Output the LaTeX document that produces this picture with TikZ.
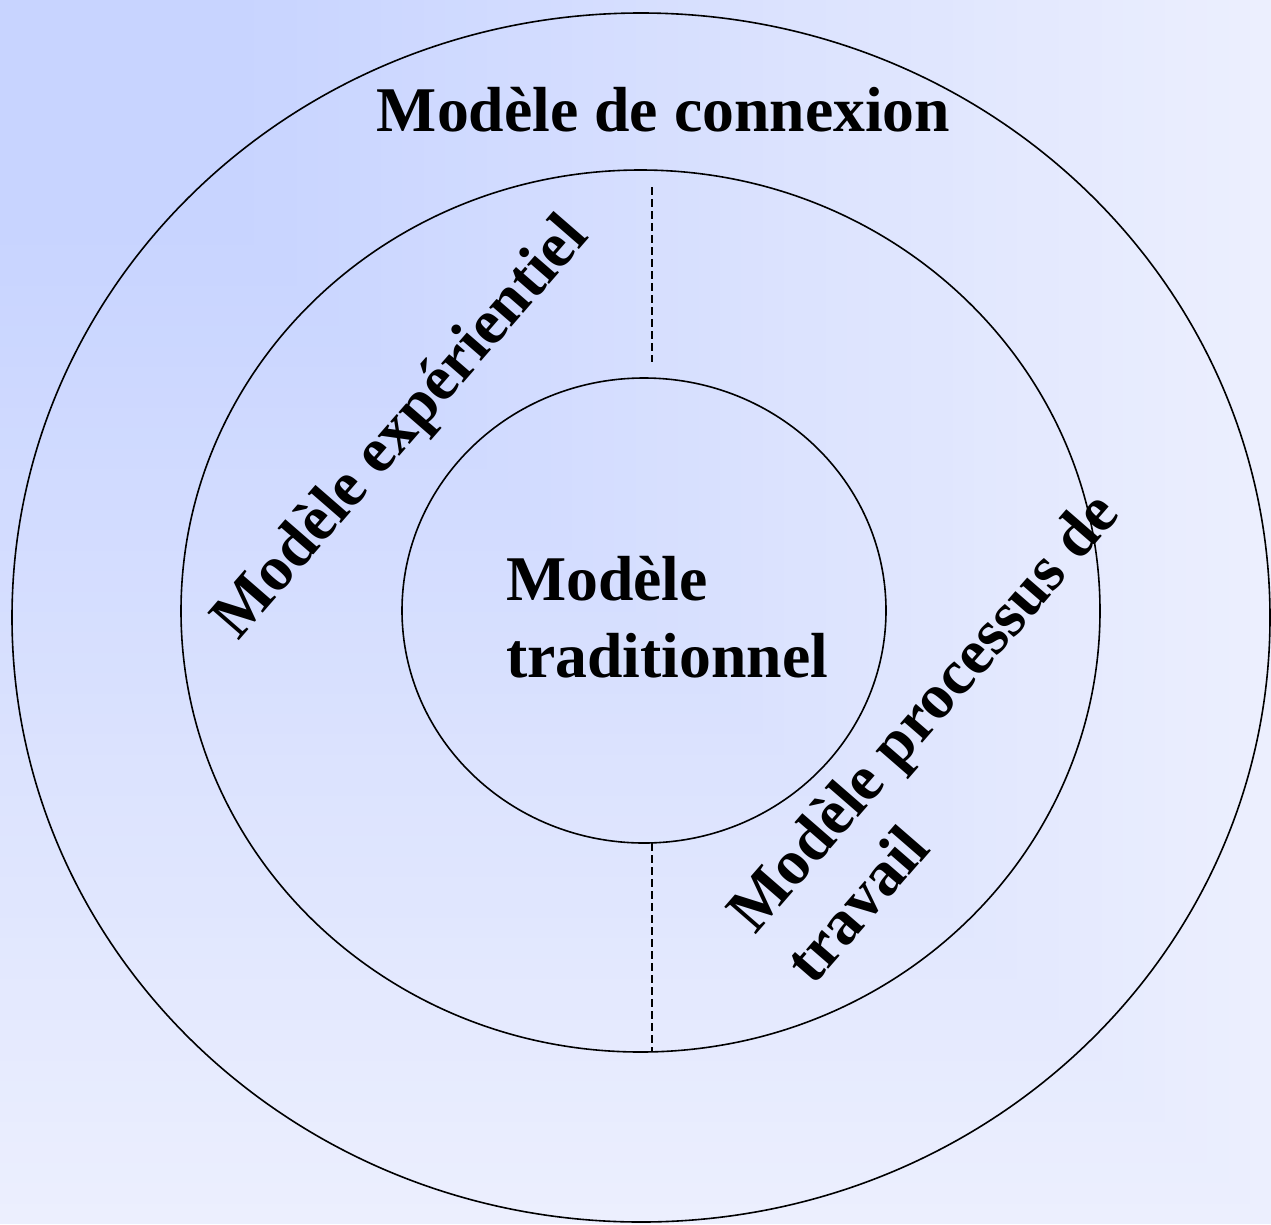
\documentclass[tikz,border=0pt]{standalone}
\usepackage{fontspec}
\setmainfont{Liberation Serif}
\usetikzlibrary{shapes.geometric}
\definecolor{bgA}{RGB}{200,212,255}
\definecolor{bgB}{RGB}{236,239,254}
\begin{document}
\begin{tikzpicture}[x=1pt,y=1pt,
  ring/.style={ellipse, draw, line width=1.6pt, inner sep=0pt, outer sep=0pt},
  lbl/.style={font=\fontsize{63.7}{77}\selectfont\bfseries, inner sep=0pt, text=black},
  sepline/.style={line width=1.5pt, dash pattern=on 8pt off 4pt}]
\useasboundingbox (0,0) rectangle (1271,-1224);
\foreach \k in {60,59,...,1}{
  \pgfmathtruncatemacro\p{max(0,100*(\k/60-0.2)/0.8)}
  \fill[bgB!\p!bgA] (0,0) rectangle ({21.1833*\k},{-20.4*\k});
}
\node[ring, minimum width=1258pt, minimum height=1209pt] (outc) at (641,-617.5) {};
\node[ring, minimum width=919pt, minimum height=882pt] (midc) at (640.5,-611) {};
\node[ring, minimum width=484pt, minimum height=465pt] (tradc) at (644,-610.5) {};
\node[lbl, anchor=base] (tconn) at (663.5,-131) {Modèle de connexion};
\node[lbl, anchor=base west] (ttrad) at (506,-600) {\begin{tabular}[t]{@{}l@{}}Modèle\\traditionnel\end{tabular}};
\node[lbl, anchor=base west, rotate=49] (texp) at (238,-642) {Modèle expérientiel};
\node[lbl, anchor=base west, rotate=49] (tproc) at (755,-936) {\begin{tabular}[t]{@{}l@{}}Modèle processus de\\travail\end{tabular}};
\coordinate (dtop) at (652,-187);
\coordinate (dbot) at (652,-362);
\coordinate (dx) at (652,0);
\draw[sepline] (dtop) -- (dbot);
\draw[sepline] (tradc.south -| dx) -- (midc.south -| dx);
\end{tikzpicture}
\end{document}
